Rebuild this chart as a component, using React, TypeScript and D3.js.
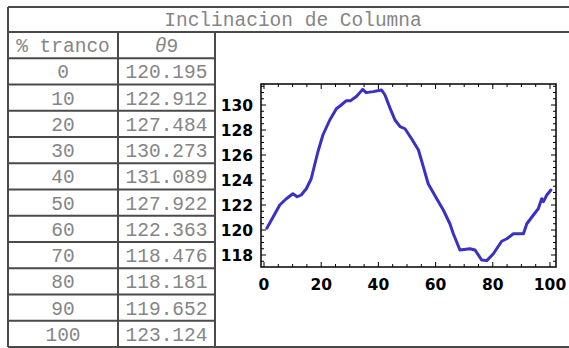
import React from 'react';
import * as d3 from 'd3';

// table values
const pctTranco = [0, 10, 20, 30, 40, 50, 60, 70, 80, 90, 100];
const theta9 = ['120.195', '122.912', '127.484', '130.273', '131.089', '127.922', '122.363', '118.476', '118.181', '119.652', '123.124'];

// curve
const curveX = [1, 2.6, 4.3, 5.5, 7.8, 10.1, 11.6, 13, 14.8, 16.5, 17.7, 18.9, 20.6, 23, 25.3, 27, 28.8, 30.3, 32.4, 34.5, 35.7, 38.2, 41.1, 42.3, 44.1, 45.8, 47.6, 49.3, 51.6, 54, 55.7, 57.4, 60.4, 62.7, 65, 66.2, 68.5, 72, 73.8, 76.1, 77.9, 80.2, 83.1, 84.9, 87.2, 90.7, 91.9, 94.2, 95.9, 97.1, 97.7, 98.9, 100.3];
const curveY = [120.15, 120.8, 121.5, 122.0, 122.5, 122.9, 122.66, 122.8, 123.3, 124.1, 125.2, 126.3, 127.6, 128.8, 129.7, 130.0, 130.35, 130.35, 130.7, 131.25, 130.99, 131.07, 131.2, 130.8, 129.73, 128.8, 128.27, 128.1, 127.3, 126.4, 125.07, 123.7, 122.5, 121.6, 120.5, 119.7, 118.4, 118.5, 118.4, 117.6, 117.55, 118.1, 119.1, 119.3, 119.7, 119.7, 120.5, 121.2, 121.7, 122.5, 122.27, 122.8, 123.2];

const xMajor = [0, 20, 40, 60, 80, 100];
const yMajor = [118, 120, 122, 124, 126, 128, 130];

const title = 'Inclinacion de Columna';
const headers = ['% tranco', 'θ', '9'];

const App: React.FC = () => {
  const W = 569;
  const H = 348;
  const tLeft = 8, tRight = 574, tTop = 7, titleBottom = 32, tBottom = 347;
  const col1 = 118, col2 = 215;
  const rowH = (tBottom - titleBottom) / 12;

  const frame = { left: 261, right: 556, top: 84, bottom: 267 };
  const x = d3.scaleLinear().domain([-1.05, 102.1]).range([frame.left, frame.right]);
  const y = d3.scaleLinear().domain([117.04, 131.68]).range([frame.bottom, frame.top]);

  const pts = curveX.map((v, i) => ({ x: v, y: curveY[i] }));
  const line = d3.line<{ x: number; y: number }>().x(d => x(d.x)).y(d => y(d.y));

  const xMinor = d3.range(0, 101, 5).filter(v => v % 20 !== 0);
  const yMinor = d3.range(117.5, 131.6, 0.5).filter(v => Math.abs(v % 2) > 0.01);

  const lineCol = '#4a4a4a';
  const textCol = '#858585';
  const mono = '"Liberation Mono", "Courier New", monospace';
  const bold = '"DejaVu Sans", sans-serif';

  return (
    <svg width={W} height={H} style={{ position: 'absolute', left: 0, top: 0 }}>
      <rect x={0} y={0} width={W} height={H} fill="#fff" />

      {/* table grid */}
      <g stroke={lineCol} strokeWidth={2} fill="none">
        <line x1={tLeft} x2={tRight} y1={tTop} y2={tTop} />
        <line x1={tLeft} x2={tRight} y1={titleBottom} y2={titleBottom} />
        <line x1={tLeft} x2={tRight} y1={tBottom} y2={tBottom} />
        <line x1={tLeft} x2={tLeft} y1={tTop} y2={tBottom} />
        <line x1={col1} x2={col1} y1={titleBottom} y2={tBottom} />
        <line x1={col2} x2={col2} y1={titleBottom} y2={tBottom} />
        {d3.range(1, 12).map(i => (
          <line key={i} x1={tLeft} x2={col2} y1={titleBottom + i * rowH} y2={titleBottom + i * rowH} />
        ))}
      </g>

      <g fill={textCol} fontFamily={mono} fontSize={19.5} textAnchor="middle">
        <text x={(tLeft + tRight) / 2 + 2} y={26}>{title}</text>
        <text x={(tLeft + col1) / 2} y={titleBottom + 20}>{headers[0]}</text>
        <text x={(col1 + col2) / 2} y={titleBottom + 20}>
          <tspan fontStyle="italic">{headers[1]}</tspan>{headers[2]}
        </text>
        {pctTranco.map((p, i) => (
          <g key={p}>
            <text x={(tLeft + col1) / 2} y={titleBottom + (i + 1) * rowH + 20}>{p}</text>
            <text x={(col1 + col2) / 2} y={titleBottom + (i + 1) * rowH + 20}>{theta9[i]}</text>
          </g>
        ))}
      </g>

      {/* plot frame */}
      <rect x={frame.left} y={frame.top} width={frame.right - frame.left} height={frame.bottom - frame.top}
        fill="none" stroke="#000" strokeWidth={1.5} />
      <g stroke="#000" strokeWidth={1}>
        {xMajor.map(v => (
          <g key={'xM' + v}>
            <line x1={x(v)} x2={x(v)} y1={frame.bottom} y2={frame.bottom - 5} />
            <line x1={x(v)} x2={x(v)} y1={frame.top} y2={frame.top + 5} />
          </g>
        ))}
        {xMinor.map(v => (
          <g key={'xm' + v}>
            <line x1={x(v)} x2={x(v)} y1={frame.bottom} y2={frame.bottom - 3} />
            <line x1={x(v)} x2={x(v)} y1={frame.top} y2={frame.top + 3} />
          </g>
        ))}
        {yMajor.map(v => (
          <g key={'yM' + v}>
            <line x1={frame.left} x2={frame.left + 5} y1={y(v)} y2={y(v)} />
            <line x1={frame.right} x2={frame.right - 5} y1={y(v)} y2={y(v)} />
          </g>
        ))}
        {yMinor.map(v => (
          <g key={'ym' + v}>
            <line x1={frame.left} x2={frame.left + 3} y1={y(v)} y2={y(v)} />
            <line x1={frame.right} x2={frame.right - 3} y1={y(v)} y2={y(v)} />
          </g>
        ))}
      </g>

      <g fontFamily={bold} fontWeight="bold" fontSize={15.5} fill="#000">
        {xMajor.map(v => (
          <text key={'xl' + v} x={x(v)} y={290} textAnchor="middle">{v}</text>
        ))}
        {yMajor.map(v => (
          <text key={'yl' + v} x={253} y={y(v) + 5.6} textAnchor="end">{v}</text>
        ))}
      </g>

      <path d={line(pts) || ''} fill="none" stroke="#3a30c4" strokeWidth={3} strokeLinejoin="round" strokeLinecap="round" />
    </svg>
  );
};

export default App;
